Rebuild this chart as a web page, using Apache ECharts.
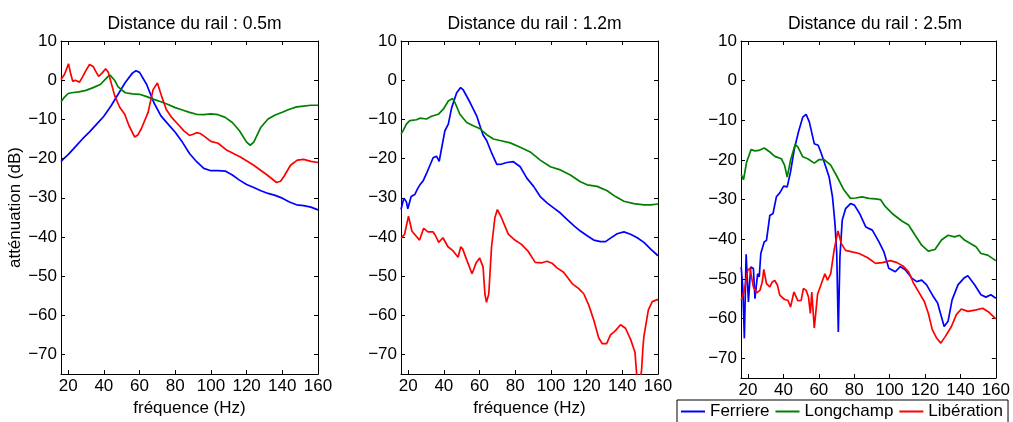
<!DOCTYPE html>
<html>
<head>
<meta charset="utf-8">
<script src="https://cdn.jsdelivr.net/npm/echarts@6/dist/echarts.min.js"></script>
<style>
  html, body { margin: 0; padding: 0; background: #ffffff; }
  #chart { width: 1013px; height: 422px; }
</style>
</head>
<body>
<div id="chart"></div>
<script>
// titres des trois panneaux
const panelTitles = ['Distance du rail : 0.5m', 'Distance du rail : 1.2m', 'Distance du rail : 2.5m']
const seriesNames = ['Ferriere', 'Longchamp', 'Libération']
const xTicks = [20, 40, 60, 80, 100, 120, 140, 160]
const yTicks = [-70, -60, -50, -40, -30, -20, -10, 0, 10]

// [fréquence (Hz), atténuation (dB)] -- 0.5m
const ferriere05 = [[16, -20.8], [18, -19.8], [20, -19.0], [24, -17.0], [28, -15.0], [32, -13.2], [36, -11.2], [40, -9.2], [44, -6.6], [48, -3.6], [52, -0.6], [56, 1.8], [58, 2.4], [60, 2.0], [64, -1.1], [68, -5.7], [72, -9.1], [76, -11.2], [80, -13.3], [84, -15.8], [88, -18.7], [92, -20.8], [96, -22.5], [100, -23.1], [104, -23.1], [108, -23.2], [112, -24.2], [116, -25.5], [120, -26.6], [124, -27.4], [128, -28.2], [132, -28.9], [136, -29.4], [140, -30.1], [144, -31.1], [148, -31.8], [152, -32.0], [156, -32.4], [160, -33.1]]
const longchamp05 = [[16, -5.5], [18, -4.3], [20, -3.4], [22, -3.2], [26, -3.0], [30, -2.6], [34, -1.9], [38, -1.1], [42, 0.8], [43.5, 1.3], [46, 0.0], [48, -1.7], [52, -3.2], [56, -3.5], [60, -3.6], [64, -4.2], [68, -4.9], [72, -5.5], [76, -6.2], [80, -7.0], [84, -7.6], [88, -8.2], [92, -8.7], [96, -8.8], [100, -8.6], [104, -8.8], [108, -9.5], [112, -10.8], [116, -12.9], [120, -15.8], [122, -16.6], [124, -15.8], [128, -12.0], [132, -9.9], [136, -8.9], [140, -8.2], [144, -7.4], [148, -6.8], [152, -6.6], [156, -6.4], [160, -6.4]]
const liberation05 = [[16, 0.2], [18, 1.5], [20.2, 4.2], [21.5, 1.5], [22.6, -0.3], [24, 0], [26.4, -0.5], [28, 0.8], [30, 2.5], [32, 4.0], [34, 3.5], [36, 1.8], [37.1, 1.0], [39, 1.8], [41, 2.9], [42.5, 2.0], [44, -0.5], [46.1, -4.0], [48.9, -6.9], [51.7, -8.7], [54, -11.5], [57.3, -14.5], [59, -14.0], [61, -12.4], [64.8, -8.2], [67.6, -2.4], [70, -0.7], [72.3, -4.0], [75, -7.5], [78, -9.5], [81, -11.0], [85, -13.0], [88, -14.1], [90, -13.8], [92, -13.4], [94, -13.6], [96, -14.2], [100, -15.6], [104, -16.1], [109, -17.9], [116.5, -19.6], [124, -21.7], [131.5, -24.2], [136.8, -26.1], [139, -25.8], [141, -24.5], [144.6, -21.7], [148.4, -20.4], [152, -20.2], [156, -20.7], [160, -21.0]]

// 1.2m
const ferriere12 = [[16, -33.0], [17.6, -30.1], [19, -31.0], [19.8, -32.8], [21.7, -29.7], [23.7, -29.2], [25.4, -27.6], [26.6, -26.7], [28.4, -25.7], [30.3, -23.8], [34, -19.8], [35.9, -19.4], [37.4, -20.7], [38.7, -17.5], [40.6, -12.9], [42.5, -11.2], [44.4, -7.0], [47.2, -3.2], [49.4, -1.9], [50.9, -2.5], [54.7, -5.7], [58.4, -9.1], [60.5, -12.0], [62, -14.0], [64, -15.4], [66.9, -18.7], [69.7, -21.5], [72.5, -21.4], [75.3, -21.0], [79, -20.8], [82.8, -22.1], [86.5, -25.0], [90.3, -27.1], [94, -29.7], [97.8, -31.3], [101.5, -32.6], [105.3, -33.9], [109, -35.5], [112.8, -37.1], [116.5, -38.5], [120.3, -39.7], [124, -40.8], [127.8, -41.2], [130.6, -41.2], [133.4, -40.3], [137.1, -39.2], [140.9, -38.7], [144.6, -39.3], [148.4, -40.2], [152.1, -41.4], [155.9, -43.1], [160, -44.8]]
const longchamp12 = [[16, -13.7], [17.2, -12.9], [19, -11.2], [20.9, -10.3], [24.7, -10.1], [26.6, -9.7], [30.3, -9.9], [33.1, -9.2], [36.9, -8.7], [39.7, -7.4], [42.5, -5.3], [44.9, -4.7], [46.2, -5.7], [49, -8.7], [52.8, -10.8], [56.5, -11.6], [60.3, -12.4], [64, -13.9], [67.8, -15.0], [71.5, -15.4], [77.2, -16.0], [82.8, -17.1], [88.4, -18.3], [94, -20.4], [99.7, -22.1], [105.3, -22.9], [110.9, -24.2], [116.5, -25.9], [120.3, -26.7], [125.9, -27.1], [131.5, -28.2], [136.2, -29.7], [140.9, -30.9], [146.5, -31.5], [152.1, -31.8], [155.9, -31.8], [160, -31.6]]
const liberation12 = [[16.1, -40.3], [18, -39.3], [20.2, -34.7], [22.1, -38.5], [23.6, -39.3], [24.5, -38.9], [26.4, -40.8], [28.7, -37.8], [31.1, -38.7], [33.9, -38.7], [35.4, -39.7], [37.1, -41.4], [39.5, -40.2], [42.3, -42.5], [45.1, -43.5], [48, -45.2], [49.5, -42.5], [50.6, -43.1], [52.6, -45.6], [55.8, -49.4], [58.2, -46.5], [60.1, -45.4], [62, -47.7], [63, -54.5], [63.9, -56.7], [65.2, -54.5], [66.7, -42.7], [68.6, -35.1], [70, -33.0], [72.3, -35.1], [76.1, -39.3], [79.8, -40.8], [83.5, -41.9], [87.3, -43.7], [91.2, -46.5], [95, -46.6], [97.8, -46.2], [100.6, -46.7], [103.4, -47.9], [107.1, -49.0], [111.9, -51.9], [115.6, -53.2], [118.4, -54.5], [121.2, -57.4], [124, -61.2], [126.8, -65.8], [128.7, -67.2], [131.2, -67.2], [133.4, -65.0], [136.2, -63.9], [139, -62.4], [141.8, -63.3], [144.7, -66.2], [147.1, -69.4], [148.2, -76], [149, -80], [150, -80], [150.8, -74], [151.6, -67.9], [152.1, -65.4], [154.6, -58.6], [156.8, -56.5], [159.6, -56.0], [160, -56.0]]

// 2.5m
const ferriere25 = [[16.1, -47], [17, -52], [17.9, -65], [18.9, -43.8], [20.2, -55.8], [21.5, -47], [23, -47.4], [23.9, -55], [25.4, -48.7], [26.3, -49.5], [27.2, -43.6], [29.1, -40.7], [30.4, -40.3], [32.3, -34], [34.1, -33.5], [36, -29.3], [37.9, -28.3], [40.1, -26.6], [42.1, -26.8], [44, -23], [46.2, -17.1], [48.5, -12.9], [50.9, -9.2], [52.8, -8.5], [54.6, -10.4], [57.4, -15.9], [59.6, -16.3], [61.1, -18], [63, -20.5], [65.8, -24.3], [67.7, -29.3], [69.1, -36], [70.1, -43.6], [71, -63.4], [71.9, -44.5], [73.2, -35.2], [75.1, -32.3], [77.9, -31], [80.1, -31.4], [83, -33.5], [86.5, -36.9], [90.2, -37.7], [93.9, -40.6], [96.7, -43.1], [99.5, -47.3], [103.2, -48.2], [106, -46.9], [108.8, -47.7], [112.5, -49.8], [115.3, -50.7], [118.1, -50.3], [120.9, -51.5], [124.6, -54.4], [127.1, -56.1], [128.9, -59], [130.8, -62], [133, -60.7], [135.3, -55.3], [138.6, -51.5], [142, -49.8], [144.2, -49.2], [148, -51.5], [151.6, -54], [154.4, -54.6], [157.2, -54], [160, -54.9]]
const longchamp25 = [[16.1, -23.6], [17.4, -25], [19.2, -20.5], [21.7, -17.4], [23.9, -17.7], [26.1, -17.6], [29.1, -17], [32.3, -18], [35.1, -19.1], [38.8, -19.7], [40.6, -21.3], [42.1, -24.3], [44, -20.1], [46.6, -16.1], [48.1, -16.7], [50.9, -19.2], [53.7, -19.7], [57.4, -20.8], [60.2, -19.9], [63, -19.9], [66.7, -21.3], [70.4, -24.3], [74.2, -27.6], [77.9, -29.7], [80.7, -29.6], [84.4, -29.3], [88.3, -29.7], [91.9, -29.8], [94.8, -30], [97.6, -31.8], [101.4, -33.5], [106.9, -35.4], [110.7, -36.4], [114.4, -39], [118.1, -41.5], [121.8, -43], [125.6, -42.6], [129.3, -40.2], [133, -39], [136.7, -39.4], [139.5, -39], [142.3, -40.2], [146.1, -41.2], [148.8, -41.9], [151.6, -43.6], [155.4, -44], [160, -45.4]]
const liberation25 = [[16.1, -55.4], [17.9, -52.9], [19.8, -47.8], [21.1, -47.4], [23, -52], [24.8, -53.5], [26.7, -52.9], [28, -50.8], [28.9, -47.6], [30.4, -51.2], [32.3, -52], [33.6, -50.8], [35.1, -50.4], [36.6, -51.6], [37.9, -54.1], [40.6, -55.2], [42.5, -55.4], [44, -57.1], [45.9, -53.3], [48.1, -55.5], [50, -55.4], [51.3, -52.4], [52.8, -52.9], [54.1, -54.5], [55.2, -58.7], [56, -53.3], [57.4, -62.4], [59.3, -53.8], [61.1, -51.6], [63.4, -48.7], [64.9, -50.3], [66.7, -48.7], [68.6, -42.8], [70.8, -37.9], [72.7, -41.1], [75.1, -42.8], [78.8, -43.2], [82.7, -43.6], [87.4, -44.6], [92, -46.1], [95.8, -45.9], [100.4, -45.4], [104.2, -45.9], [107.9, -46.9], [110.7, -48.2], [113.5, -51.1], [116.3, -53.2], [119.6, -55.7], [121.8, -58.6], [124.1, -62.8], [126.5, -64.9], [128.9, -66.2], [131.5, -64.5], [134.9, -62], [137.7, -59], [140.5, -57.6], [144.2, -58.2], [148.9, -57.8], [152.6, -57.4], [156.3, -58.5], [160, -60.1]]

const panelData = [
  [ferriere05, longchamp05, liberation05],
  [ferriere12, longchamp12, liberation12],
  [ferriere25, longchamp25, liberation25]
]
const colors = ['#0000ff', '#008000', '#ff0000']

const FONT = 'Liberation Sans, Arial, Helvetica, sans-serif'
const gridLeft = [61, 401, 741]
const gridW = [257, 257, 258]
const gridTop = 41
const gridH = 337

const minus = v => (v < 0 ? '\u2212' + Math.abs(v) : String(v))

const grids = []
const xAxes = []
const yAxes = []
const titles = []
const series = []

for (let i = 0; i < 3; i++) {
  grids.push({ left: gridLeft[i], top: gridTop, width: gridW[i], height: gridH, containLabel: false })
  titles.push({
    text: panelTitles[i],
    left: gridLeft[i] + gridW[i] / 2,
    top: 10,
    textAlign: 'center',
    textStyle: { fontFamily: FONT, fontSize: 17.5, fontWeight: 'normal', color: '#000' }
  })
  // axe x bas + haut (ticks intérieurs)
  const xBase = {
    type: 'value', gridIndex: i, min: 16, max: 160,
    axisLine: { show: true, onZero: false, lineStyle: { color: '#000', width: 1 } },
    axisTick: { show: true, inside: true, length: 4, customValues: xTicks, lineStyle: { color: '#000' } },
    splitLine: { show: false }
  }
  xAxes.push(Object.assign({}, xBase, {
    position: 'bottom',
    name: i < 2 ? 'fréquence (Hz)' : '',
    nameLocation: 'middle',
    nameGap: 20,
    nameTextStyle: { fontFamily: FONT, fontSize: 17, color: '#000' },
    axisLabel: { show: true, customValues: xTicks, margin: 4, fontFamily: FONT, fontSize: 17, color: '#000' }
  }))
  xAxes.push(Object.assign({}, xBase, { position: 'top', axisLabel: { show: false } }))

  const yBase = {
    type: 'value', gridIndex: i, min: -75, max: 10,
    axisLine: { show: true, onZero: false, lineStyle: { color: '#000', width: 1 } },
    axisTick: { show: true, inside: true, length: 4, customValues: yTicks, lineStyle: { color: '#000' } },
    splitLine: { show: false }
  }
  const yLeft = Object.assign({}, yBase, {
    position: 'left',
    axisLabel: { show: true, customValues: yTicks, margin: 4, fontFamily: FONT, fontSize: 17, color: '#000', formatter: minus }
  })
  if (i === 0) {
    yLeft.name = 'atténuation (dB)'
    yLeft.nameLocation = 'middle'
    yLeft.nameGap = 33
    yLeft.nameTextStyle = { fontFamily: FONT, fontSize: 17, color: '#000' }
  }
  yAxes.push(yLeft)
  yAxes.push(Object.assign({}, yBase, { position: 'right', axisLabel: { show: false } }))

  for (let k = 0; k < 3; k++) {
    series.push({
      name: seriesNames[k],
      type: 'line',
      xAxisIndex: 2 * i,
      yAxisIndex: 2 * i,
      data: panelData[i][k],
      symbol: 'none',
      clip: true,
      color: colors[k],
      lineStyle: { color: colors[k], width: 1.7 },
      emphasis: { disabled: true }
    })
  }
}

const chart = echarts.init(document.getElementById('chart'), null, { renderer: 'canvas' })
chart.setOption({
  animation: false,
  backgroundColor: '#ffffff',
  title: titles,
  grid: grids,
  xAxis: xAxes,
  yAxis: yAxes,
  legend: {
    data: seriesNames,
    left: 677,
    top: 400,
    orient: 'horizontal',
    borderColor: '#000',
    borderWidth: 1,
    padding: [3, 5, 3, 4],
    icon: 'rect',
    itemWidth: 24,
    itemHeight: 2,
    itemGap: 6,
    textStyle: { fontFamily: FONT, fontSize: 17, color: '#000' }
  },
  series: series
})
</script>
</body>
</html>
